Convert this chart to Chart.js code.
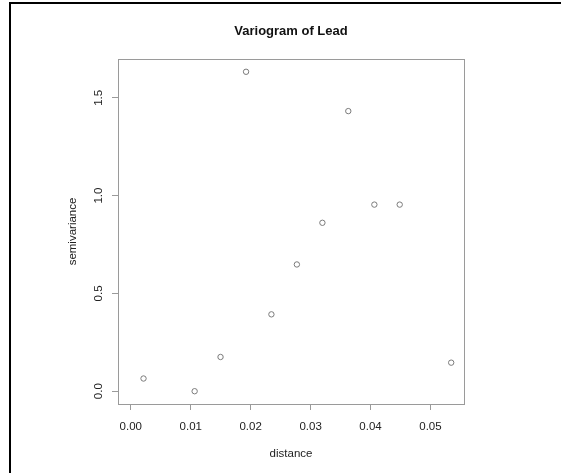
<!DOCTYPE html>
<html>
<head>
<meta charset="utf-8">
<title>Variogram of Lead</title>
<script src="https://cdn.jsdelivr.net/npm/chart.js@4.4.1/dist/chart.umd.min.js"></script>
<style>
  html, body { margin: 0; padding: 0; background: #fff; overflow: hidden; }
  #wrap { position: relative; width: 561px; height: 473px; overflow: hidden; }
  .rule { position: absolute; background: #000; pointer-events: none; }
  #rule-left { left: 9px; top: 2px; width: 2px; height: 471px; }
  #rule-top  { left: 9px; top: 2px; width: 552px; height: 2px; }
  canvas { display: block; }
</style>
</head>
<body>
<div id="wrap">
  <canvas id="vgm" width="561" height="473"></canvas>
  <div class="rule" id="rule-left"></div>
  <div class="rule" id="rule-top"></div>
</div>
<script>
// ---- sample variogram: lag distance vs semivariance ----
const lagDistance  = [0.00212, 0.01065, 0.01497, 0.01923, 0.02346, 0.02771, 0.03197, 0.03629, 0.04064, 0.04487, 0.05346];
const semivariance = [0.065,   0.000,   0.175,   1.633,   0.393,   0.648,   0.861,   1.432,   0.954,   0.954,   0.146];

const xTickValues = [0, 0.01, 0.02, 0.03, 0.04, 0.05];
const xTickLabels = ['0.00', '0.01', '0.02', '0.03', '0.04', '0.05'];
const yTickValues = [0, 0.5, 1.0, 1.5];
const yTickLabels = ['0.0', '0.5', '1.0', '1.5'];

const FONT = "'Liberation Sans', Arial, Helvetica, sans-serif";
const INK  = '#222';
const AXIS = '#9a9a9a';

// R-style limits: 0..max for x, data range for y, each widened by 4%
const xMaxData = Math.max(...lagDistance);
const yMaxData = Math.max(...semivariance);
const xLim = [-0.04 * xMaxData, 1.04 * xMaxData];
const yLim = [-0.04 * yMaxData, 1.04 * yMaxData];

// box around the plotting region + main title centred over it
const plotFrame = {
  id: 'plotFrame',
  beforeDatasetsDraw(chart) {
    const { ctx, chartArea: a } = chart;
    ctx.save();
    ctx.strokeStyle = AXIS;
    ctx.lineWidth = 1;
    ctx.strokeRect(Math.round(a.left) + 0.5, Math.round(a.top) + 0.5,
                   Math.round(a.right - a.left), Math.round(a.bottom - a.top));
    ctx.restore();
  },
  afterDraw(chart) {
    const { ctx, chartArea: a } = chart;
    ctx.save();
    ctx.fillStyle = '#111';
    ctx.font = `bold 13px ${FONT}`;
    ctx.textAlign = 'center';
    ctx.textBaseline = 'middle';
    ctx.fillText('Variogram of Lead', (a.left + a.right) / 2, 31);
    ctx.restore();
  }
};

const points = lagDistance.map((d, i) => ({ x: d, y: semivariance[i] }));

new Chart(document.getElementById('vgm'), {
  type: 'scatter',
  data: {
    datasets: [{
      data: points,
      pointStyle: 'circle',
      pointRadius: 2.7,
      pointBorderWidth: 1,
      pointBorderColor: '#7a7a7a',
      pointBackgroundColor: 'rgba(0,0,0,0)'
    }]
  },
  options: {
    responsive: false,
    animation: false,
    layout: { padding: { left: 0, right: 97, top: 59, bottom: 0 } },
    plugins: {
      legend: { display: false },
      tooltip: { enabled: false },
      title: { display: false }
    },
    scales: {
      x: {
        type: 'linear',
        min: xLim[0],
        max: xLim[1],
        afterBuildTicks: s => { s.ticks = xTickValues.map(v => ({ value: v })); },
        afterFit: s => { s.height = 69; },
        border: { display: false },
        grid: { drawOnChartArea: false, drawTicks: true, tickLength: 6, color: AXIS, lineWidth: 1 },
        ticks: {
          autoSkip: false, maxRotation: 0, padding: 10,
          color: INK, font: { family: FONT, size: 11.5 },
          callback: (v, i) => xTickLabels[i]
        },
        title: {
          display: true, text: 'distance', color: INK,
          font: { family: FONT, size: 11.5 },
          padding: { top: 0, bottom: 12 }
        }
      },
      y: {
        type: 'linear',
        min: yLim[0],
        max: yLim[1],
        afterBuildTicks: s => { s.ticks = yTickValues.map(v => ({ value: v })); },
        afterFit: s => { s.width = 118; },
        border: { display: false },
        grid: { drawOnChartArea: false, drawTicks: true, tickLength: 6, color: AXIS, lineWidth: 1 },
        ticks: {
          autoSkip: false, minRotation: 90, maxRotation: 90, crossAlign: 'center', padding: 5,
          color: INK, font: { family: FONT, size: 11.5 },
          callback: (v, i) => yTickLabels[i]
        },
        title: {
          display: true, text: 'semivariance', color: INK,
          font: { family: FONT, size: 11.5 },
          padding: { top: 66, bottom: 0 }
        }
      }
    }
  },
  plugins: [plotFrame]
});
</script>
</body>
</html>
